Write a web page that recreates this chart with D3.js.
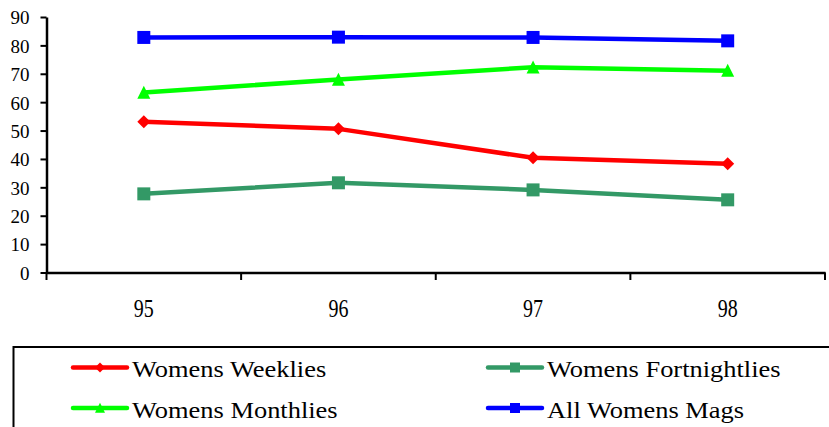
<!DOCTYPE html>
<html><head><meta charset="utf-8">
<script src="https://cdn.jsdelivr.net/npm/d3@7"></script>
<style>body{margin:0;background:#fff}svg{display:block}
svg text{font-family:"Liberation Serif","DejaVu Serif","Times New Roman",serif !important;fill:#000}</style>
</head><body>
<svg id="c" width="829" height="427"></svg>
<script>
const categories = ["95","96","97","98"];
const yTicks = [0,10,20,30,40,50,60,70,80,90];
const womensWeeklies = [53.1, 50.6, 40.4, 38.3];
const womensFortnightlies = [27.7, 31.6, 29.1, 25.6];
const womensMonthlies = [63.4, 68.0, 72.3, 71.1];
const allWomensMags = [82.8, 82.9, 82.8, 81.6];
const seriesNames = ["Womens Weeklies","Womens Fortnightlies","Womens Monthlies","All Womens Mags"];

const series = [
  {name: seriesNames[0], values: womensWeeklies, color: "#ff0000", marker: "diamond"},
  {name: seriesNames[1], values: womensFortnightlies, color: "#339966", marker: "square"},
  {name: seriesNames[2], values: womensMonthlies, color: "#00ff00", marker: "triangle"},
  {name: seriesNames[3], values: allWomensMags, color: "#0000ff", marker: "square"}
];

const svg = d3.select("#c");
const x = d3.scaleBand().domain(categories).range([46.5, 825]);
const y = d3.scaleLinear().domain([0, 90]).range([272.5, 17]);

// y axis
const ya = svg.append("g").attr("transform", "translate(46.5,0)")
  .call(d3.axisLeft(y).tickValues(yTicks).tickSize(6).tickPadding(11).tickSizeOuter(0));
ya.select(".domain").attr("stroke", "#000").attr("stroke-width", 2.5);
ya.selectAll(".tick line").attr("stroke", "#000").attr("stroke-width", 2);
ya.selectAll("text").attr("font-size", 19).attr("dy", "0.36em");

// x axis
const xa = svg.append("g").attr("transform", "translate(0,272.5)")
  .call(d3.axisBottom(x).tickSize(0).tickPadding(0).tickSizeOuter(0));
xa.select(".domain").attr("stroke", "#000").attr("stroke-width", 2.5);
xa.selectAll(".tick text").attr("font-size", 25).attr("dy", 0).attr("y", 0)
  .attr("transform", "translate(0,44.5) scale(0.8,1)");
const bounds = categories.map(c => x(c)).concat([x.range()[1]]);
svg.append("g").selectAll("line").data(bounds).join("line")
  .attr("x1", d => d).attr("x2", d => d).attr("y1", 272.5).attr("y2", 280)
  .attr("stroke", "#000").attr("stroke-width", 2);

const cx = c => x(c) + x.bandwidth() / 2;
const line = d3.line().x((d, i) => cx(categories[i])).y(d => y(d));

function marker(g, type, color, sz) {
  const h = sz / 2;
  let d;
  if (type === "diamond") d = `M0,${-h}L${h},0L0,${h}L${-h},0Z`;
  else if (type === "square") d = `M${-h},${-h}H${h}V${h}H${-h}Z`;
  else d = `M0,${-h*1.05}L${h},${h*0.95}L${-h},${h*0.95}Z`;
  g.append("path").attr("d", d).attr("fill", color);
}

series.forEach(s => {
  svg.append("path").datum(s.values).attr("d", line)
    .attr("fill", "none").attr("stroke", s.color).attr("stroke-width", 4.5)
    .attr("stroke-linejoin", "round");
  s.values.forEach((v, i) => {
    const g = svg.append("g").attr("transform", `translate(${cx(categories[i])},${y(v)})`);
    marker(g, s.marker, s.color, s.marker === "square" ? 13 : (s.marker === "diamond" ? 13 : 13));
  });
});

// legend
svg.append("rect").attr("x", 13.5).attr("y", 347).attr("width", 830).attr("height", 100)
  .attr("fill", "none").attr("stroke", "#000").attr("stroke-width", 2);
const legPos = [[73, 367.5], [488, 367.5], [73, 408], [488, 408]];
series.forEach((s, i) => {
  const [lx, ly] = legPos[i];
  const g = svg.append("g");
  g.append("line").attr("x1", lx).attr("x2", lx + 54).attr("y1", ly).attr("y2", ly)
    .attr("stroke", s.color).attr("stroke-width", 4.5).attr("stroke-linecap", "round");
  const m = g.append("g").attr("transform", `translate(${lx + 27},${ly})`);
  marker(m, s.marker, s.color, s.marker === "square" ? 10 : 10);
  g.append("text").attr("transform", `translate(${lx + 59},${ly + 9.5}) scale(1.15,1)`)
    .attr("font-size", 23).text(s.name);
});
</script>
</body></html>
